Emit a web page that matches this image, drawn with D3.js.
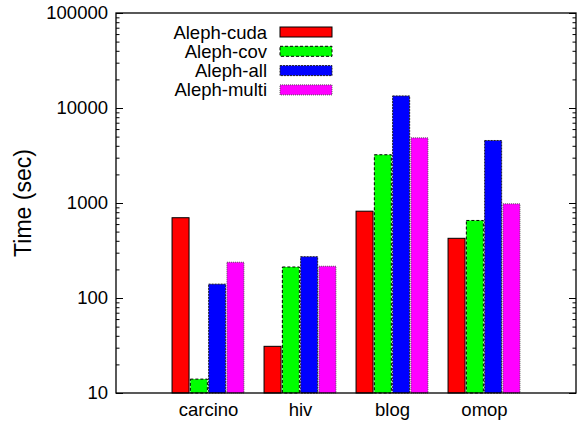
<!DOCTYPE html>
<html>
<head>
<meta charset="utf-8">
<script src="https://cdn.jsdelivr.net/npm/d3@7"></script>
<style>
  body { margin: 0; background: #fff; }
  text { font-family: "Liberation Sans", Arial, sans-serif; fill: #000; }
</style>
</head>
<body>
<div id="canvas"></div>
<script>
const categories = ["carcino", "hiv", "blog", "omop"];
const seriesNames = ["Aleph-cuda", "Aleph-cov", "Aleph-all", "Aleph-multi"];
const cuda  = [700, 31, 820, 425];
const cov   = [14, 212, 3220, 655];
const all   = [140, 272, 13400, 4550];
const multi = [238, 216, 4850, 980];
const yTicks = [10, 100, 1000, 10000, 100000];

const colors = ["#ff0000", "#00ff00", "#0000ff", "#ff00ff"];
const dashes = [null, "3,2", "2,1", "1,1"];
const strokes = ["#000", "#000", "#222", "#555"];
const series = [cuda, cov, all, multi];

const W = 577, H = 424;
const pLeft = 116, pRight = 576, pTop = 13, pBottom = 393;

const svg = d3.select("#canvas").append("svg")
  .attr("width", W).attr("height", H);

const x = d3.scaleLinear().domain([0, 5]).range([pLeft, pRight]);
const y = d3.scaleLog().domain([10, 100000]).range([pBottom, pTop]);

const barW = 17, step = 18.3;

// bars
series.forEach((vals, s) => {
  svg.selectAll(".bar" + s)
    .data(vals)
    .enter()
    .append("rect")
      .attr("x", (d, i) => x(i + 1) + (s - 2) * step + (step - barW) / 2)
      .attr("y", d => y(d))
      .attr("width", barW)
      .attr("height", d => pBottom - y(d))
      .style("fill", colors[s])
      .style("stroke", strokes[s])
      .style("stroke-width", 1)
      .style("stroke-dasharray", dashes[s]);
});

// minor ticks values
const minor = [];
for (let e = 1; e < 5; e++) for (let m = 2; m < 10; m++) minor.push(m * Math.pow(10, e));

const yAxis = d3.axisLeft(y).tickValues(yTicks).tickFormat(d3.format("d")).tickSize(-7).tickPadding(8);
const gy = svg.append("g").attr("transform", `translate(${pLeft},0)`).call(yAxis);
gy.select(".domain").remove();
gy.selectAll("text").style("font-size", "18.5px").attr("font-family", null);

const gyMinor = svg.append("g").attr("transform", `translate(${pLeft},0)`)
  .call(d3.axisLeft(y).tickValues(minor).tickFormat("").tickSize(-3.5));
gyMinor.select(".domain").remove();

const gyR = svg.append("g").attr("transform", `translate(${pRight},0)`)
  .call(d3.axisRight(y).tickValues(yTicks).tickFormat("").tickSize(-7));
gyR.select(".domain").remove();
const gyRm = svg.append("g").attr("transform", `translate(${pRight},0)`)
  .call(d3.axisRight(y).tickValues(minor).tickFormat("").tickSize(-3.5));
gyRm.select(".domain").remove();

// frame
svg.append("rect")
  .attr("x", pLeft).attr("y", pTop)
  .attr("width", pRight - pLeft).attr("height", pBottom - pTop)
  .style("fill", "none").style("stroke", "#000").style("stroke-width", 1.3);

// x labels
const xAxis = d3.axisBottom(x).tickValues([1, 2, 3, 4])
  .tickFormat(d => categories[d - 1]).tickSize(0).tickPadding(10);
const gx = svg.append("g").attr("transform", `translate(0,${pBottom})`).call(xAxis);
gx.select(".domain").remove();
gx.selectAll("text").style("font-size", "18.5px").attr("font-family", null);

// y title
svg.append("text")
  .attr("transform", `translate(31,${(pTop + pBottom) / 2}) rotate(-90)`)
  .attr("text-anchor", "middle")
  .style("font-size", "23px")
  .text("Time (sec)");

// legend
seriesNames.forEach((name, s) => {
  const cy = 32 + s * 19.3;
  svg.append("text")
    .attr("x", 267).attr("y", cy + 6.5)
    .attr("text-anchor", "end")
    .style("font-size", "18.5px")
    .text(name);
  svg.append("rect")
    .attr("x", 280).attr("y", cy - 5)
    .attr("width", 52).attr("height", 10)
    .style("fill", colors[s])
    .style("stroke", strokes[s])
    .style("stroke-dasharray", dashes[s]);
});
</script>
</body>
</html>
